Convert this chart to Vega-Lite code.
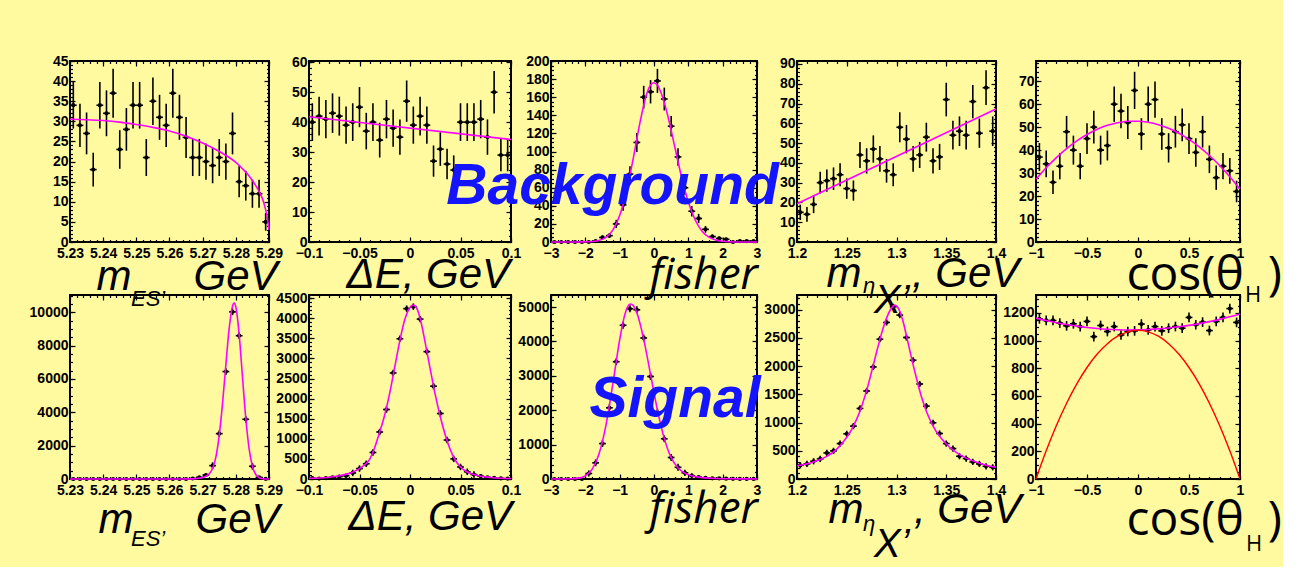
{
"$schema": "https://vega.github.io/schema/vega-lite/v6.json",
"padding": {"left": 28, "top": 53, "right": 0, "bottom": 0},
"background": "#fffaa0",
"columns": 5,
"spacing": {"row": 53, "column": 40},
"bounds": "flush",
"config": {
 "view": {"stroke": "black", "strokeWidth": 2, "fill": null},
 "axis": {"domain": false, "grid": false, "tickColor": "black", "tickWidth": 1.2, "tickSize": -5, "labelFont": "Liberation Sans Narrow, Liberation Sans", "labelFontWeight": "bold", "labelFontSize": 14, "labelColor": "black", "labelPadding": 7, "labelOverlap": false, "labelFlush": false, "titleFont": "Liberation Sans", "titleFontStyle": "italic", "titleFontWeight": "normal", "titleFontSize": 42, "titleColor": "black", "titleAlign": "left", "titleBaseline": "alphabetic", "titleAngle": 0},
 "axisBottom": {"labelPadding": 9}
},
"datasets": {
 "d1": [{"x":5.231,"y":34,"e":5.8},{"x":5.233,"y":29,"e":5.4},{"x":5.235,"y":27,"e":5.2},{"x":5.237,"y":18,"e":4.2},{"x":5.239,"y":34,"e":5.8},{"x":5.241,"y":32,"e":5.7},{"x":5.243,"y":37,"e":6.1},{"x":5.245,"y":23,"e":4.8},{"x":5.247,"y":28,"e":5.3},{"x":5.249,"y":34,"e":5.8},{"x":5.251,"y":34,"e":5.8},{"x":5.253,"y":21,"e":4.6},{"x":5.255,"y":35,"e":5.9},{"x":5.257,"y":31,"e":5.6},{"x":5.259,"y":29,"e":5.4},{"x":5.261,"y":37,"e":6.1},{"x":5.263,"y":31,"e":5.6},{"x":5.265,"y":26,"e":5.1},{"x":5.267,"y":21,"e":4.6},{"x":5.269,"y":21,"e":4.6},{"x":5.271,"y":20,"e":4.5},{"x":5.273,"y":19,"e":4.4},{"x":5.275,"y":21,"e":4.6},{"x":5.277,"y":20,"e":4.5},{"x":5.279,"y":27,"e":5.2},{"x":5.281,"y":15,"e":3.9},{"x":5.283,"y":14,"e":3.7},{"x":5.285,"y":12,"e":3.5},{"x":5.287,"y":12,"e":3.5},{"x":5.289,"y":5,"e":2.2}],
 "d2": [{"x":-0.0967,"y":40,"e":6.3},{"x":-0.09,"y":42,"e":6.5},{"x":-0.0833,"y":41,"e":6.4},{"x":-0.0767,"y":43,"e":6.6},{"x":-0.07,"y":42,"e":6.5},{"x":-0.0633,"y":39,"e":6.2},{"x":-0.0567,"y":40,"e":6.3},{"x":-0.05,"y":45,"e":6.7},{"x":-0.0433,"y":37,"e":6.1},{"x":-0.0367,"y":40,"e":6.3},{"x":-0.03,"y":34,"e":5.8},{"x":-0.0233,"y":41,"e":6.4},{"x":-0.0167,"y":38,"e":6.2},{"x":-0.01,"y":35,"e":5.9},{"x":-0.0033,"y":47,"e":6.9},{"x":0.0033,"y":39,"e":6.2},{"x":0.01,"y":42,"e":6.5},{"x":0.0167,"y":39,"e":6.2},{"x":0.0233,"y":27,"e":5.2},{"x":0.03,"y":31,"e":5.6},{"x":0.0367,"y":26,"e":5.1},{"x":0.0433,"y":24,"e":4.9},{"x":0.05,"y":40,"e":6.3},{"x":0.0567,"y":40,"e":6.3},{"x":0.0633,"y":40,"e":6.3},{"x":0.07,"y":41,"e":6.4},{"x":0.0767,"y":35,"e":5.9},{"x":0.0833,"y":50,"e":7.1},{"x":0.09,"y":29,"e":5.4},{"x":0.0967,"y":29,"e":5.4}],
 "d3": [{"x":-2.9,"y":0,"e":0},{"x":-2.7,"y":0,"e":0},{"x":-2.5,"y":0,"e":0},{"x":-2.3,"y":0,"e":0},{"x":-2.1,"y":0,"e":0},{"x":-1.9,"y":0,"e":0},{"x":-1.7,"y":1,"e":1},{"x":-1.5,"y":5,"e":2.2},{"x":-1.3,"y":7,"e":2.6},{"x":-1.1,"y":20,"e":4.5},{"x":-0.9,"y":41,"e":6.4},{"x":-0.7,"y":75,"e":8.7},{"x":-0.5,"y":110,"e":10.5},{"x":-0.3,"y":160,"e":12.6},{"x":-0.1,"y":166,"e":12.9},{"x":0.1,"y":178,"e":13.3},{"x":0.3,"y":158,"e":12.6},{"x":0.5,"y":128,"e":11.3},{"x":0.7,"y":94,"e":9.7},{"x":0.9,"y":60,"e":7.7},{"x":1.1,"y":34,"e":5.8},{"x":1.3,"y":26,"e":5.1},{"x":1.5,"y":14,"e":3.7},{"x":1.7,"y":6,"e":2.4},{"x":1.9,"y":4,"e":2},{"x":2.1,"y":3,"e":1.7},{"x":2.3,"y":0,"e":0},{"x":2.5,"y":1,"e":1},{"x":2.7,"y":1,"e":1},{"x":2.9,"y":1,"e":1}],
 "d4": [{"x":1.2033,"y":15,"e":3.9},{"x":1.21,"y":14,"e":3.7},{"x":1.2167,"y":19,"e":4.4},{"x":1.2233,"y":30,"e":5.5},{"x":1.23,"y":31,"e":5.6},{"x":1.2367,"y":32,"e":5.7},{"x":1.2433,"y":34,"e":5.8},{"x":1.25,"y":27,"e":5.2},{"x":1.2567,"y":26,"e":5.1},{"x":1.2633,"y":44,"e":6.6},{"x":1.27,"y":41,"e":6.4},{"x":1.2767,"y":47,"e":6.9},{"x":1.2833,"y":42,"e":6.5},{"x":1.29,"y":36,"e":6},{"x":1.2967,"y":34,"e":5.8},{"x":1.3033,"y":58,"e":7.6},{"x":1.31,"y":52,"e":7.2},{"x":1.3167,"y":42,"e":6.5},{"x":1.3233,"y":44,"e":6.6},{"x":1.33,"y":53,"e":7.3},{"x":1.3367,"y":41,"e":6.4},{"x":1.3433,"y":43,"e":6.6},{"x":1.35,"y":72,"e":8.5},{"x":1.3567,"y":54,"e":7.3},{"x":1.3633,"y":56,"e":7.5},{"x":1.37,"y":54,"e":7.3},{"x":1.3767,"y":71,"e":8.4},{"x":1.3833,"y":55,"e":7.4},{"x":1.39,"y":78,"e":8.8},{"x":1.3967,"y":56,"e":7.5}],
 "d5": [{"x":-0.9667,"y":37,"e":6.1},{"x":-0.9,"y":34,"e":5.8},{"x":-0.8333,"y":26,"e":5.1},{"x":-0.7667,"y":33,"e":5.7},{"x":-0.7,"y":48,"e":6.9},{"x":-0.6333,"y":40,"e":6.3},{"x":-0.5667,"y":33,"e":5.7},{"x":-0.5,"y":45,"e":6.7},{"x":-0.4333,"y":50,"e":7.1},{"x":-0.3667,"y":40,"e":6.3},{"x":-0.3,"y":42,"e":6.5},{"x":-0.2333,"y":60,"e":7.7},{"x":-0.1667,"y":57,"e":7.5},{"x":-0.1,"y":52,"e":7.2},{"x":-0.0333,"y":66,"e":8.1},{"x":0.0333,"y":47,"e":6.9},{"x":0.1,"y":60,"e":7.7},{"x":0.1667,"y":62,"e":7.9},{"x":0.2333,"y":47,"e":6.9},{"x":0.3,"y":41,"e":6.4},{"x":0.3667,"y":48,"e":6.9},{"x":0.4333,"y":51,"e":7.1},{"x":0.5,"y":45,"e":6.7},{"x":0.5667,"y":39,"e":6.2},{"x":0.6333,"y":48,"e":6.9},{"x":0.7,"y":36,"e":6},{"x":0.7667,"y":28,"e":5.3},{"x":0.8333,"y":33,"e":5.7},{"x":0.9,"y":31,"e":5.6},{"x":0.9667,"y":22,"e":4.7}],
 "d6": [{"x":5.231,"y":0,"e":0},{"x":5.233,"y":0,"e":0},{"x":5.235,"y":0,"e":0},{"x":5.237,"y":0,"e":0},{"x":5.239,"y":0,"e":0},{"x":5.241,"y":0,"e":0},{"x":5.243,"y":0,"e":0},{"x":5.245,"y":0,"e":0},{"x":5.247,"y":0,"e":0},{"x":5.249,"y":0,"e":0},{"x":5.251,"y":0,"e":0},{"x":5.253,"y":0,"e":0},{"x":5.255,"y":0,"e":0},{"x":5.257,"y":0,"e":0},{"x":5.259,"y":0,"e":0},{"x":5.261,"y":0,"e":0},{"x":5.263,"y":0,"e":0},{"x":5.265,"y":0,"e":0},{"x":5.267,"y":30,"e":30},{"x":5.269,"y":100,"e":60},{"x":5.271,"y":240,"e":100},{"x":5.273,"y":800,"e":200},{"x":5.275,"y":2720,"e":200},{"x":5.277,"y":6440,"e":200},{"x":5.279,"y":10020,"e":200},{"x":5.281,"y":8590,"e":200},{"x":5.283,"y":3580,"e":200},{"x":5.285,"y":760,"e":200},{"x":5.287,"y":100,"e":60},{"x":5.289,"y":10,"e":10}],
 "d7": [{"x":-0.0967,"y":20,"e":15},{"x":-0.09,"y":10,"e":8},{"x":-0.0833,"y":20,"e":15},{"x":-0.0767,"y":40,"e":30},{"x":-0.07,"y":60,"e":45},{"x":-0.0633,"y":80,"e":60},{"x":-0.0567,"y":150,"e":80},{"x":-0.05,"y":260,"e":80},{"x":-0.0433,"y":380,"e":80},{"x":-0.0367,"y":660,"e":80},{"x":-0.03,"y":1170,"e":80},{"x":-0.0233,"y":1730,"e":80},{"x":-0.0167,"y":2640,"e":80},{"x":-0.01,"y":3490,"e":80},{"x":-0.0033,"y":4240,"e":80},{"x":0.0033,"y":4290,"e":80},{"x":0.01,"y":3980,"e":80},{"x":0.0167,"y":3170,"e":80},{"x":0.0233,"y":2310,"e":80},{"x":0.03,"y":1630,"e":80},{"x":0.0367,"y":970,"e":80},{"x":0.0433,"y":500,"e":80},{"x":0.05,"y":300,"e":80},{"x":0.0567,"y":180,"e":80},{"x":0.0633,"y":110,"e":80},{"x":0.07,"y":70,"e":55},{"x":0.0767,"y":40,"e":30},{"x":0.0833,"y":25,"e":20},{"x":0.09,"y":15,"e":12},{"x":0.0967,"y":10,"e":8}],
 "d8": [{"x":-2.9,"y":0,"e":0},{"x":-2.7,"y":0,"e":0},{"x":-2.5,"y":0,"e":0},{"x":-2.3,"y":0,"e":0},{"x":-2.1,"y":0,"e":0},{"x":-1.9,"y":160,"e":90},{"x":-1.7,"y":470,"e":100},{"x":-1.5,"y":1030,"e":100},{"x":-1.3,"y":2070,"e":100},{"x":-1.1,"y":3410,"e":100},{"x":-0.9,"y":4470,"e":100},{"x":-0.7,"y":4950,"e":100},{"x":-0.5,"y":4920,"e":100},{"x":-0.3,"y":4100,"e":100},{"x":-0.1,"y":2980,"e":100},{"x":0.1,"y":1940,"e":100},{"x":0.3,"y":1170,"e":100},{"x":0.5,"y":625,"e":100},{"x":0.7,"y":340,"e":100},{"x":0.9,"y":180,"e":90},{"x":1.1,"y":95,"e":70},{"x":1.3,"y":55,"e":45},{"x":1.5,"y":35,"e":30},{"x":1.7,"y":20,"e":18},{"x":1.9,"y":15,"e":12},{"x":2.1,"y":10,"e":8},{"x":2.3,"y":5,"e":4},{"x":2.5,"y":3,"e":3},{"x":2.7,"y":2,"e":2},{"x":2.9,"y":1,"e":1}],
 "d9": [{"x":1.2033,"y":243,"e":55},{"x":1.21,"y":267,"e":55},{"x":1.2167,"y":314,"e":55},{"x":1.2233,"y":356,"e":55},{"x":1.23,"y":462,"e":55},{"x":1.2367,"y":498,"e":55},{"x":1.2433,"y":628,"e":55},{"x":1.25,"y":800,"e":55},{"x":1.2567,"y":937,"e":55},{"x":1.2633,"y":1250,"e":55},{"x":1.27,"y":1559,"e":55},{"x":1.2767,"y":1986,"e":55},{"x":1.2833,"y":2478,"e":55},{"x":1.29,"y":2774,"e":55},{"x":1.2967,"y":3050,"e":55},{"x":1.3033,"y":2904,"e":55},{"x":1.31,"y":2507,"e":55},{"x":1.3167,"y":2104,"e":55},{"x":1.3233,"y":1683,"e":55},{"x":1.33,"y":1292,"e":55},{"x":1.3367,"y":996,"e":55},{"x":1.3433,"y":806,"e":55},{"x":1.35,"y":628,"e":55},{"x":1.3567,"y":539,"e":55},{"x":1.3633,"y":403,"e":55},{"x":1.37,"y":362,"e":55},{"x":1.3767,"y":302,"e":55},{"x":1.3833,"y":267,"e":55},{"x":1.39,"y":225,"e":55},{"x":1.3967,"y":207,"e":55}],
 "d10": [{"x":-0.9667,"y":1158,"e":35},{"x":-0.9,"y":1146,"e":35},{"x":-0.8333,"y":1146,"e":35},{"x":-0.7667,"y":1127,"e":35},{"x":-0.7,"y":1107,"e":35},{"x":-0.6333,"y":1122,"e":35},{"x":-0.5667,"y":1102,"e":35},{"x":-0.5,"y":1139,"e":35},{"x":-0.4333,"y":1029,"e":35},{"x":-0.3667,"y":1110,"e":35},{"x":-0.3,"y":1066,"e":35},{"x":-0.2333,"y":1102,"e":35},{"x":-0.1667,"y":1041,"e":35},{"x":-0.1,"y":1066,"e":35},{"x":-0.0333,"y":1071,"e":35},{"x":0.0333,"y":1120,"e":35},{"x":0.1,"y":1078,"e":35},{"x":0.1667,"y":1102,"e":35},{"x":0.2333,"y":1071,"e":35},{"x":0.3,"y":1090,"e":35},{"x":0.3667,"y":1102,"e":35},{"x":0.4333,"y":1090,"e":35},{"x":0.5,"y":1168,"e":35},{"x":0.5667,"y":1115,"e":35},{"x":0.6333,"y":1134,"e":35},{"x":0.7,"y":1073,"e":35},{"x":0.7667,"y":1139,"e":35},{"x":0.8333,"y":1168,"e":35},{"x":0.9,"y":1232,"e":35},{"x":0.9667,"y":1132,"e":35}],
 "f1": [{"x":5.23,"y":30.5},{"x":5.235,"y":30.4},{"x":5.24,"y":30.2},{"x":5.245,"y":29.8},{"x":5.25,"y":29.2},{"x":5.255,"y":28.5},{"x":5.26,"y":27.6},{"x":5.265,"y":26.3},{"x":5.27,"y":24.6},{"x":5.275,"y":22.5},{"x":5.278,"y":21.0},{"x":5.28,"y":19.8},{"x":5.282,"y":18.2},{"x":5.284,"y":16.4},{"x":5.286,"y":14.0},{"x":5.287,"y":12.6},{"x":5.288,"y":10.8},{"x":5.289,"y":8.0},{"x":5.2895,"y":6.0},{"x":5.29,"y":3.0}],
 "f2": [{"x":-0.1,"y":41.8},{"x":0.1,"y":34.2}],
 "f3": [{"x":-3,"y":0},{"x":-2.4,"y":0},{"x":-2.0,"y":0.12},{"x":-1.8,"y":0.48},{"x":-1.6,"y":1.7},{"x":-1.4,"y":5.0},{"x":-1.2,"y":13.1},{"x":-1.0,"y":29.2},{"x":-0.8,"y":56.2},{"x":-0.6,"y":93.3},{"x":-0.4,"y":133.6},{"x":-0.2,"y":165.1},{"x":-0.1,"y":173.5},{"x":-0.014,"y":176},{"x":0.1,"y":173.2},{"x":0.2,"y":165.5},{"x":0.4,"y":139.8},{"x":0.6,"y":106.1},{"x":0.8,"y":72.2},{"x":1.0,"y":44.2},{"x":1.2,"y":24.3},{"x":1.4,"y":12.0},{"x":1.6,"y":5.3},{"x":1.8,"y":2.1},{"x":2.0,"y":0.76},{"x":2.2,"y":0.25},{"x":2.6,"y":0},{"x":3,"y":0}],
 "f4": [{"x":1.2,"y":19.3},{"x":1.4,"y":67.2}],
 "f5": [{"x":-1,"y":27.3},{"x":-0.9,"y":32.3},{"x":-0.8,"y":36.75},{"x":-0.7,"y":40.65},{"x":-0.6,"y":44.0},{"x":-0.5,"y":46.8},{"x":-0.4,"y":49.07},{"x":-0.3,"y":50.78},{"x":-0.2,"y":51.93},{"x":-0.1,"y":52.54},{"x":0,"y":52.6},{"x":0.1,"y":52.11},{"x":0.2,"y":51.07},{"x":0.3,"y":49.49},{"x":0.4,"y":47.35},{"x":0.5,"y":44.67},{"x":0.6,"y":41.43},{"x":0.7,"y":37.65},{"x":0.8,"y":33.31},{"x":0.9,"y":28.43},{"x":1,"y":23.0}],
 "f6": [{"x":5.23,"y":0},{"x":5.264,"y":0},{"x":5.266,"y":5},{"x":5.268,"y":25},{"x":5.27,"y":90},{"x":5.271,"y":170},{"x":5.272,"y":320},{"x":5.273,"y":640},{"x":5.274,"y":1330},{"x":5.275,"y":2630},{"x":5.276,"y":4550},{"x":5.277,"y":6860},{"x":5.278,"y":9040},{"x":5.279,"y":10360},{"x":5.2795,"y":10540},{"x":5.28,"y":10310},{"x":5.281,"y":8670},{"x":5.282,"y":6130},{"x":5.283,"y":3640},{"x":5.284,"y":1820},{"x":5.285,"y":760},{"x":5.286,"y":270},{"x":5.287,"y":80},{"x":5.288,"y":20},{"x":5.289,"y":4},{"x":5.29,"y":0}],
 "f7": [{"x":-0.1,"y":15},{"x":-0.09,"y":25},{"x":-0.08,"y":45},{"x":-0.07,"y":80},{"x":-0.06,"y":140},{"x":-0.05,"y":260},{"x":-0.045,"y":350},{"x":-0.04,"y":490},{"x":-0.035,"y":780},{"x":-0.03,"y":1170},{"x":-0.025,"y":1600},{"x":-0.02,"y":2150},{"x":-0.015,"y":2800},{"x":-0.01,"y":3450},{"x":-0.005,"y":3980},{"x":0,"y":4270},{"x":0.003,"y":4330},{"x":0.006,"y":4280},{"x":0.01,"y":4000},{"x":0.015,"y":3400},{"x":0.02,"y":2740},{"x":0.025,"y":2100},{"x":0.03,"y":1550},{"x":0.035,"y":1090},{"x":0.04,"y":720},{"x":0.045,"y":460},{"x":0.05,"y":300},{"x":0.055,"y":200},{"x":0.06,"y":135},{"x":0.07,"y":70},{"x":0.08,"y":38},{"x":0.09,"y":20},{"x":0.1,"y":12}],
 "f8": [{"x":-3,"y":0},{"x":-2.6,"y":1},{"x":-2.4,"y":6},{"x":-2.2,"y":25},{"x":-2.0,"y":93},{"x":-1.8,"y":287},{"x":-1.6,"y":735},{"x":-1.4,"y":1561},{"x":-1.2,"y":2757},{"x":-1.0,"y":4047},{"x":-0.85,"y":4779},{"x":-0.77,"y":5005},{"x":-0.685,"y":5090},{"x":-0.6,"y":5035},{"x":-0.5,"y":4833},{"x":-0.3,"y":4068},{"x":-0.1,"y":3033},{"x":0.1,"y":2004},{"x":0.3,"y":1174},{"x":0.5,"y":620},{"x":0.7,"y":320},{"x":0.9,"y":170},{"x":1.1,"y":95},{"x":1.3,"y":55},{"x":1.5,"y":32},{"x":1.8,"y":15},{"x":2.2,"y":7},{"x":2.6,"y":3},{"x":3,"y":1}],
 "f9": [{"x":1.2,"y":235},{"x":1.21,"y":270},{"x":1.22,"y":325},{"x":1.23,"y":400},{"x":1.24,"y":530},{"x":1.25,"y":740},{"x":1.255,"y":880},{"x":1.26,"y":1060},{"x":1.265,"y":1290},{"x":1.27,"y":1570},{"x":1.275,"y":1900},{"x":1.28,"y":2250},{"x":1.285,"y":2580},{"x":1.29,"y":2850},{"x":1.295,"y":3030},{"x":1.298,"y":3080},{"x":1.302,"y":3020},{"x":1.306,"y":2830},{"x":1.31,"y":2540},{"x":1.315,"y":2150},{"x":1.32,"y":1790},{"x":1.325,"y":1460},{"x":1.33,"y":1200},{"x":1.335,"y":1000},{"x":1.34,"y":840},{"x":1.345,"y":720},{"x":1.35,"y":620},{"x":1.36,"y":470},{"x":1.37,"y":370},{"x":1.38,"y":300},{"x":1.39,"y":245},{"x":1.4,"y":210}],
 "f10": [{"x":-1,"y":1163},{"x":-0.9,"y":1145.5},{"x":-0.8,"y":1130},{"x":-0.7,"y":1116.5},{"x":-0.6,"y":1105},{"x":-0.5,"y":1095.5},{"x":-0.4,"y":1088},{"x":-0.3,"y":1082.5},{"x":-0.2,"y":1079},{"x":-0.1,"y":1077.5},{"x":0,"y":1078},{"x":0.1,"y":1080.5},{"x":0.2,"y":1085},{"x":0.3,"y":1091.5},{"x":0.4,"y":1100},{"x":0.5,"y":1110.5},{"x":0.6,"y":1123},{"x":0.7,"y":1137.5},{"x":0.8,"y":1154},{"x":0.9,"y":1172.5},{"x":1,"y":1193}],
 "r10": [{"x":-1,"y":0},{"x":-0.95,"y":105},{"x":-0.9,"y":204},{"x":-0.8,"y":387},{"x":-0.7,"y":548},{"x":-0.6,"y":688},{"x":-0.5,"y":806},{"x":-0.4,"y":903},{"x":-0.3,"y":978},{"x":-0.2,"y":1032},{"x":-0.1,"y":1064},{"x":0,"y":1075},{"x":0.1,"y":1064},{"x":0.2,"y":1032},{"x":0.3,"y":978},{"x":0.4,"y":903},{"x":0.5,"y":806},{"x":0.6,"y":688},{"x":0.7,"y":548},{"x":0.8,"y":387},{"x":0.9,"y":204},{"x":0.95,"y":105},{"x":1,"y":0}]
},
"concat": [
{"width":199,"height":181,"resolve":{"axis":{"x":"independent","y":"independent"}},
 "layer":[
 {"data":{"name":"d1"},"mark":{"type":"errorbar","ticks":false,"thickness":1.6,"color":"black"},
  "encoding":{"x":{"field":"x","type":"quantitative","scale":{"domain":[5.23,5.29],"nice":false,"zero":false},"axis":{"orient":"bottom","values":[5.23,5.24,5.25,5.26,5.27,5.28,5.29],"format":"~r","title":"m\u2003\u2009 GeV","titleX":26,"titleY":47}},
   "y":{"field":"y","type":"quantitative","scale":{"domain":[0,45],"nice":false,"zero":false},"axis":{"orient":"left","values":[0,5,10,15,20,25,30,35,40,45],"format":"~r","title":null}},
   "yError":{"field":"e"}}},
 {"data":{"name":"d1"},"mark":{"type":"tick","orient":"horizontal","size":6.8,"thickness":1.6,"color":"black","opacity":1},
  "encoding":{"x":{"field":"x","type":"quantitative","scale":{"domain":[5.23,5.29],"nice":false,"zero":false},"axis":{"orient":"top","values":[5.23,5.24,5.25,5.26,5.27,5.28,5.29],"labels":false,"title":null}},
   "y":{"field":"y","type":"quantitative","scale":{"domain":[0,45],"nice":false,"zero":false},"axis":{"orient":"right","values":[0,5,10,15,20,25,30,35,40,45],"labels":false,"title":null}}}},
 {"data":{"name":"d1"},"mark":{"type":"point","shape":"circle","filled":true,"size":18,"color":"black","opacity":1},
  "encoding":{"x":{"field":"x","type":"quantitative","scale":{"domain":[5.23,5.29],"nice":false,"zero":false},"axis":{"orient":"bottom","tickCount":30,"labels":false,"title":null,"tickSize":-2.5}},
   "y":{"field":"y","type":"quantitative","scale":{"domain":[0,45],"nice":false,"zero":false},"axis":{"orient":"left","tickCount":45,"labels":false,"title":null,"tickSize":-2.5}}}},
 {"data":{"name":"f1"},"mark":{"type":"line","color":"#ff00ff","strokeWidth":1.6,"interpolate":"monotone"},
  "encoding":{"x":{"field":"x","type":"quantitative","scale":{"domain":[5.23,5.29],"nice":false,"zero":false},"axis":{"orient":"top","tickCount":30,"labels":false,"title":null,"tickSize":-2.5}},
   "y":{"field":"y","type":"quantitative","scale":{"domain":[0,45],"nice":false,"zero":false},"axis":{"orient":"right","tickCount":45,"labels":false,"title":null,"tickSize":-2.5}}}},
 {"data":{"values":[{}]},"mark":{"type":"text","text":"ES’","font":"Liberation Sans","fontStyle":"italic","fontSize":22,"align":"left","baseline":"alphabetic","color":"black"},
  "encoding":{"x":{"datum":5.2484,"type":"quantitative","scale":{"domain":[5.23,5.29],"nice":false,"zero":false},"axis":null},
   "y":{"datum":-15.9,"type":"quantitative","scale":{"domain":[0,45],"nice":false,"zero":false},"axis":null}}}
 ]},
{"width":202,"height":181,"resolve":{"axis":{"x":"independent","y":"independent"}},
 "layer":[
 {"data":{"name":"d2"},"mark":{"type":"errorbar","ticks":false,"thickness":1.6,"color":"black"},
  "encoding":{"x":{"field":"x","type":"quantitative","scale":{"domain":[-0.1,0.1],"nice":false,"zero":false},"axis":{"orient":"bottom","values":[-0.1,-0.05,0,0.05,0.1],"format":"~r","title":"ΔE, GeV","titleX":37,"titleY":45}},
   "y":{"field":"y","type":"quantitative","scale":{"domain":[0,60.4],"nice":false,"zero":false},"axis":{"orient":"left","values":[0,10,20,30,40,50,60],"format":"~r","title":null}},
   "yError":{"field":"e"}}},
 {"data":{"name":"d2"},"mark":{"type":"tick","orient":"horizontal","size":6.8,"thickness":1.6,"color":"black","opacity":1},
  "encoding":{"x":{"field":"x","type":"quantitative","scale":{"domain":[-0.1,0.1],"nice":false,"zero":false},"axis":{"orient":"top","values":[-0.1,-0.05,0,0.05,0.1],"labels":false,"title":null}},
   "y":{"field":"y","type":"quantitative","scale":{"domain":[0,60.4],"nice":false,"zero":false},"axis":{"orient":"right","values":[0,10,20,30,40,50,60],"labels":false,"title":null}}}},
 {"data":{"name":"d2"},"mark":{"type":"point","shape":"circle","filled":true,"size":18,"color":"black","opacity":1},
  "encoding":{"x":{"field":"x","type":"quantitative","scale":{"domain":[-0.1,0.1],"nice":false,"zero":false},"axis":{"orient":"bottom","tickCount":20,"labels":false,"title":null,"tickSize":-2.5}},
   "y":{"field":"y","type":"quantitative","scale":{"domain":[0,60.4],"nice":false,"zero":false},"axis":{"orient":"left","tickCount":30,"labels":false,"title":null,"tickSize":-2.5}}}},
 {"data":{"name":"f2"},"mark":{"type":"line","color":"#ff00ff","strokeWidth":1.6},
  "encoding":{"x":{"field":"x","type":"quantitative","scale":{"domain":[-0.1,0.1],"nice":false,"zero":false},"axis":{"orient":"top","tickCount":20,"labels":false,"title":null,"tickSize":-2.5}},
   "y":{"field":"y","type":"quantitative","scale":{"domain":[0,60.4],"nice":false,"zero":false},"axis":{"orient":"right","tickCount":30,"labels":false,"title":null,"tickSize":-2.5}}}}
 ]},
{"width":206,"height":181,"resolve":{"axis":{"x":"independent","y":"independent"}},
 "layer":[
 {"data":{"name":"d3"},"mark":{"type":"errorbar","ticks":false,"thickness":1.6,"color":"black"},
  "encoding":{"x":{"field":"x","type":"quantitative","scale":{"domain":[-3,3],"nice":false,"zero":false},"axis":{"orient":"bottom","values":[-3,-2,-1,0,1,2,3],"format":"~r","title":"fisher","titleX":98,"titleY":46,"titleFont":"Open Sans","titleFontStyle":"italic","titleFontSize":44}},
   "y":{"field":"y","type":"quantitative","scale":{"domain":[0,200],"nice":false,"zero":false},"axis":{"orient":"left","values":[0,20,40,60,80,100,120,140,160,180,200],"format":"~r","title":null}},
   "yError":{"field":"e"}}},
 {"data":{"name":"d3"},"mark":{"type":"tick","orient":"horizontal","size":6.8,"thickness":1.6,"color":"black","opacity":1},
  "encoding":{"x":{"field":"x","type":"quantitative","scale":{"domain":[-3,3],"nice":false,"zero":false},"axis":{"orient":"top","values":[-3,-2,-1,0,1,2,3],"labels":false,"title":null}},
   "y":{"field":"y","type":"quantitative","scale":{"domain":[0,200],"nice":false,"zero":false},"axis":{"orient":"right","values":[0,20,40,60,80,100,120,140,160,180,200],"labels":false,"title":null}}}},
 {"data":{"name":"d3"},"mark":{"type":"point","shape":"circle","filled":true,"size":18,"color":"black","opacity":1},
  "encoding":{"x":{"field":"x","type":"quantitative","scale":{"domain":[-3,3],"nice":false,"zero":false},"axis":{"orient":"bottom","tickCount":30,"labels":false,"title":null,"tickSize":-2.5}},
   "y":{"field":"y","type":"quantitative","scale":{"domain":[0,200],"nice":false,"zero":false},"axis":{"orient":"left","tickCount":40,"labels":false,"title":null,"tickSize":-2.5}}}},
 {"data":{"name":"f3"},"mark":{"type":"line","color":"#ff00ff","strokeWidth":1.6,"interpolate":"monotone"},
  "encoding":{"x":{"field":"x","type":"quantitative","scale":{"domain":[-3,3],"nice":false,"zero":false},"axis":{"orient":"top","tickCount":30,"labels":false,"title":null,"tickSize":-2.5}},
   "y":{"field":"y","type":"quantitative","scale":{"domain":[0,200],"nice":false,"zero":false},"axis":{"orient":"right","tickCount":40,"labels":false,"title":null,"tickSize":-2.5}}}},
 {"data":{"values":[{}]},"mark":{"type":"text","text":"Background","font":"Liberation Sans","fontStyle":"italic","fontWeight":"bold","fontSize":57,"align":"left","baseline":"alphabetic","color":"#1414ff"},
  "encoding":{"x":{"datum":-6.05,"type":"quantitative","scale":{"domain":[-3,3],"nice":false,"zero":false},"axis":null},
   "y":{"datum":42,"type":"quantitative","scale":{"domain":[0,200],"nice":false,"zero":false},"axis":null}}}
 ]},
{"width":199,"height":181,"resolve":{"axis":{"x":"independent","y":"independent"}},
 "layer":[
 {"data":{"name":"d4"},"mark":{"type":"errorbar","ticks":false,"thickness":1.6,"color":"black"},
  "encoding":{"x":{"field":"x","type":"quantitative","scale":{"domain":[1.2,1.4],"nice":false,"zero":false},"axis":{"orient":"bottom","values":[1.2,1.25,1.3,1.35,1.4],"format":"~r","title":"m\u2003\u2009, GeV","titleX":29,"titleY":44}},
   "y":{"field":"y","type":"quantitative","scale":{"domain":[0,91.5],"nice":false,"zero":false},"axis":{"orient":"left","values":[0,10,20,30,40,50,60,70,80,90],"format":"~r","title":null}},
   "yError":{"field":"e"}}},
 {"data":{"name":"d4"},"mark":{"type":"tick","orient":"horizontal","size":6.8,"thickness":1.6,"color":"black","opacity":1},
  "encoding":{"x":{"field":"x","type":"quantitative","scale":{"domain":[1.2,1.4],"nice":false,"zero":false},"axis":{"orient":"top","values":[1.2,1.25,1.3,1.35,1.4],"labels":false,"title":null}},
   "y":{"field":"y","type":"quantitative","scale":{"domain":[0,91.5],"nice":false,"zero":false},"axis":{"orient":"right","values":[0,10,20,30,40,50,60,70,80,90],"labels":false,"title":null}}}},
 {"data":{"name":"d4"},"mark":{"type":"point","shape":"circle","filled":true,"size":18,"color":"black","opacity":1},
  "encoding":{"x":{"field":"x","type":"quantitative","scale":{"domain":[1.2,1.4],"nice":false,"zero":false},"axis":{"orient":"bottom","tickCount":20,"labels":false,"title":null,"tickSize":-2.5}},
   "y":{"field":"y","type":"quantitative","scale":{"domain":[0,91.5],"nice":false,"zero":false},"axis":{"orient":"left","tickCount":45,"labels":false,"title":null,"tickSize":-2.5}}}},
 {"data":{"name":"f4"},"mark":{"type":"line","color":"#ff00ff","strokeWidth":1.6},
  "encoding":{"x":{"field":"x","type":"quantitative","scale":{"domain":[1.2,1.4],"nice":false,"zero":false},"axis":{"orient":"top","tickCount":20,"labels":false,"title":null,"tickSize":-2.5}},
   "y":{"field":"y","type":"quantitative","scale":{"domain":[0,91.5],"nice":false,"zero":false},"axis":{"orient":"right","tickCount":45,"labels":false,"title":null,"tickSize":-2.5}}}},
 {"data":{"values":[{}]},"mark":{"type":"text","text":"η","font":"Liberation Sans","fontStyle":"italic","fontSize":22,"align":"left","baseline":"alphabetic","color":"black"},
  "encoding":{"x":{"datum":1.2663,"type":"quantitative","scale":{"domain":[1.2,1.4],"nice":false,"zero":false},"axis":null},
   "y":{"datum":-25.8,"type":"quantitative","scale":{"domain":[0,91.5],"nice":false,"zero":false},"axis":null}}},
 {"data":{"values":[{}]},"mark":{"type":"text","text":"X’","font":"Liberation Sans","fontStyle":"italic","fontSize":40,"align":"left","baseline":"alphabetic","color":"black"},
  "encoding":{"x":{"datum":1.2774,"type":"quantitative","scale":{"domain":[1.2,1.4],"nice":false,"zero":false},"axis":null},
   "y":{"datum":-35.9,"type":"quantitative","scale":{"domain":[0,91.5],"nice":false,"zero":false},"axis":null}}}
 ]},
{"width":204,"height":181,"resolve":{"axis":{"x":"independent","y":"independent"}},
 "layer":[
 {"data":{"name":"d5"},"mark":{"type":"errorbar","ticks":false,"thickness":1.6,"color":"black"},
  "encoding":{"x":{"field":"x","type":"quantitative","scale":{"domain":[-1,1],"nice":false,"zero":false},"axis":{"orient":"bottom","values":[-1,-0.5,0,0.5,1],"format":"~r","title":"cos(θ\u2002)","titleX":90,"titleY":47,"titleFont":"Open Sans","titleFontStyle":"normal","titleFontSize":48}},
   "y":{"field":"y","type":"quantitative","scale":{"domain":[0,78.8],"nice":false,"zero":false},"axis":{"orient":"left","values":[0,10,20,30,40,50,60,70],"format":"~r","title":null}},
   "yError":{"field":"e"}}},
 {"data":{"name":"d5"},"mark":{"type":"tick","orient":"horizontal","size":6.8,"thickness":1.6,"color":"black","opacity":1},
  "encoding":{"x":{"field":"x","type":"quantitative","scale":{"domain":[-1,1],"nice":false,"zero":false},"axis":{"orient":"top","values":[-1,-0.5,0,0.5,1],"labels":false,"title":null}},
   "y":{"field":"y","type":"quantitative","scale":{"domain":[0,78.8],"nice":false,"zero":false},"axis":{"orient":"right","values":[0,10,20,30,40,50,60,70],"labels":false,"title":null}}}},
 {"data":{"name":"d5"},"mark":{"type":"point","shape":"circle","filled":true,"size":18,"color":"black","opacity":1},
  "encoding":{"x":{"field":"x","type":"quantitative","scale":{"domain":[-1,1],"nice":false,"zero":false},"axis":{"orient":"bottom","tickCount":20,"labels":false,"title":null,"tickSize":-2.5}},
   "y":{"field":"y","type":"quantitative","scale":{"domain":[0,78.8],"nice":false,"zero":false},"axis":{"orient":"left","tickCount":39,"labels":false,"title":null,"tickSize":-2.5}}}},
 {"data":{"name":"f5"},"mark":{"type":"line","color":"#ff00ff","strokeWidth":1.6,"interpolate":"monotone"},
  "encoding":{"x":{"field":"x","type":"quantitative","scale":{"domain":[-1,1],"nice":false,"zero":false},"axis":{"orient":"top","tickCount":20,"labels":false,"title":null,"tickSize":-2.5}},
   "y":{"field":"y","type":"quantitative","scale":{"domain":[0,78.8],"nice":false,"zero":false},"axis":{"orient":"right","tickCount":39,"labels":false,"title":null,"tickSize":-2.5}}}},
 {"data":{"values":[{}]},"mark":{"type":"text","text":"H","font":"Open Sans","fontSize":22,"align":"left","baseline":"alphabetic","color":"black"},
  "encoding":{"x":{"datum":1.049,"type":"quantitative","scale":{"domain":[-1,1],"nice":false,"zero":false},"axis":null},
   "y":{"datum":-26.1,"type":"quantitative","scale":{"domain":[0,78.8],"nice":false,"zero":false},"axis":null}}}
 ]},
{"width":199,"height":184,"resolve":{"axis":{"x":"independent","y":"independent"}},
 "layer":[
 {"data":{"name":"d6"},"mark":{"type":"errorbar","ticks":false,"thickness":1.6,"color":"black"},
  "encoding":{"x":{"field":"x","type":"quantitative","scale":{"domain":[5.23,5.29],"nice":false,"zero":false},"axis":{"orient":"bottom","values":[5.23,5.24,5.25,5.26,5.27,5.28,5.29],"format":"~r","title":"m\u2003\u2009 GeV","titleX":28,"titleY":53}},
   "y":{"field":"y","type":"quantitative","scale":{"domain":[0,11030],"nice":false,"zero":false},"axis":{"orient":"left","values":[0,2000,4000,6000,8000,10000],"format":"~r","title":null}},
   "yError":{"field":"e"}}},
 {"data":{"name":"d6"},"mark":{"type":"tick","orient":"horizontal","size":6.8,"thickness":1.6,"color":"black","opacity":1},
  "encoding":{"x":{"field":"x","type":"quantitative","scale":{"domain":[5.23,5.29],"nice":false,"zero":false},"axis":{"orient":"top","values":[5.23,5.24,5.25,5.26,5.27,5.28,5.29],"labels":false,"title":null}},
   "y":{"field":"y","type":"quantitative","scale":{"domain":[0,11030],"nice":false,"zero":false},"axis":{"orient":"right","values":[0,2000,4000,6000,8000,10000],"labels":false,"title":null}}}},
 {"data":{"name":"d6"},"mark":{"type":"point","shape":"circle","filled":true,"size":18,"color":"black","opacity":1},
  "encoding":{"x":{"field":"x","type":"quantitative","scale":{"domain":[5.23,5.29],"nice":false,"zero":false},"axis":{"orient":"bottom","tickCount":30,"labels":false,"title":null,"tickSize":-2.5}},
   "y":{"field":"y","type":"quantitative","scale":{"domain":[0,11030],"nice":false,"zero":false},"axis":{"orient":"left","tickCount":22,"labels":false,"title":null,"tickSize":-2.5}}}},
 {"data":{"name":"f6"},"mark":{"type":"line","color":"#ff00ff","strokeWidth":1.6,"interpolate":"monotone"},
  "encoding":{"x":{"field":"x","type":"quantitative","scale":{"domain":[5.23,5.29],"nice":false,"zero":false},"axis":{"orient":"top","tickCount":30,"labels":false,"title":null,"tickSize":-2.5}},
   "y":{"field":"y","type":"quantitative","scale":{"domain":[0,11030],"nice":false,"zero":false},"axis":{"orient":"right","tickCount":22,"labels":false,"title":null,"tickSize":-2.5}}}},
 {"data":{"values":[{}]},"mark":{"type":"text","text":"ES’","font":"Liberation Sans","fontStyle":"italic","fontSize":22,"align":"left","baseline":"alphabetic","color":"black"},
  "encoding":{"x":{"datum":5.2484,"type":"quantitative","scale":{"domain":[5.23,5.29],"nice":false,"zero":false},"axis":null},
   "y":{"datum":-4016,"type":"quantitative","scale":{"domain":[0,11030],"nice":false,"zero":false},"axis":null}}}
 ]},
{"width":202,"height":184,"resolve":{"axis":{"x":"independent","y":"independent"}},
 "layer":[
 {"data":{"name":"d7"},"mark":{"type":"errorbar","ticks":false,"thickness":1.6,"color":"black"},
  "encoding":{"x":{"field":"x","type":"quantitative","scale":{"domain":[-0.1,0.1],"nice":false,"zero":false},"axis":{"orient":"bottom","values":[-0.1,-0.05,0,0.05,0.1],"format":"~r","title":"ΔE, GeV","titleX":39,"titleY":50}},
   "y":{"field":"y","type":"quantitative","scale":{"domain":[0,4580],"nice":false,"zero":false},"axis":{"orient":"left","values":[0,500,1000,1500,2000,2500,3000,3500,4000,4500],"format":"~r","title":null}},
   "yError":{"field":"e"}}},
 {"data":{"name":"d7"},"mark":{"type":"tick","orient":"horizontal","size":6.8,"thickness":1.6,"color":"black","opacity":1},
  "encoding":{"x":{"field":"x","type":"quantitative","scale":{"domain":[-0.1,0.1],"nice":false,"zero":false},"axis":{"orient":"top","values":[-0.1,-0.05,0,0.05,0.1],"labels":false,"title":null}},
   "y":{"field":"y","type":"quantitative","scale":{"domain":[0,4580],"nice":false,"zero":false},"axis":{"orient":"right","values":[0,500,1000,1500,2000,2500,3000,3500,4000,4500],"labels":false,"title":null}}}},
 {"data":{"name":"d7"},"mark":{"type":"point","shape":"circle","filled":true,"size":18,"color":"black","opacity":1},
  "encoding":{"x":{"field":"x","type":"quantitative","scale":{"domain":[-0.1,0.1],"nice":false,"zero":false},"axis":{"orient":"bottom","tickCount":20,"labels":false,"title":null,"tickSize":-2.5}},
   "y":{"field":"y","type":"quantitative","scale":{"domain":[0,4580],"nice":false,"zero":false},"axis":{"orient":"left","tickCount":46,"labels":false,"title":null,"tickSize":-2.5}}}},
 {"data":{"name":"f7"},"mark":{"type":"line","color":"#ff00ff","strokeWidth":1.6,"interpolate":"monotone"},
  "encoding":{"x":{"field":"x","type":"quantitative","scale":{"domain":[-0.1,0.1],"nice":false,"zero":false},"axis":{"orient":"top","tickCount":20,"labels":false,"title":null,"tickSize":-2.5}},
   "y":{"field":"y","type":"quantitative","scale":{"domain":[0,4580],"nice":false,"zero":false},"axis":{"orient":"right","tickCount":46,"labels":false,"title":null,"tickSize":-2.5}}}}
 ]},
{"width":206,"height":184,"resolve":{"axis":{"x":"independent","y":"independent"}},
 "layer":[
 {"data":{"name":"d8"},"mark":{"type":"errorbar","ticks":false,"thickness":1.6,"color":"black"},
  "encoding":{"x":{"field":"x","type":"quantitative","scale":{"domain":[-3,3],"nice":false,"zero":false},"axis":{"orient":"bottom","values":[-3,-2,-1,0,1,2,3],"format":"~r","title":"fisher","titleX":98,"titleY":43,"titleFont":"Open Sans","titleFontStyle":"italic","titleFontSize":44}},
   "y":{"field":"y","type":"quantitative","scale":{"domain":[0,5350],"nice":false,"zero":false},"axis":{"orient":"left","values":[0,1000,2000,3000,4000,5000],"format":"~r","title":null}},
   "yError":{"field":"e"}}},
 {"data":{"name":"d8"},"mark":{"type":"tick","orient":"horizontal","size":6.8,"thickness":1.6,"color":"black","opacity":1},
  "encoding":{"x":{"field":"x","type":"quantitative","scale":{"domain":[-3,3],"nice":false,"zero":false},"axis":{"orient":"top","values":[-3,-2,-1,0,1,2,3],"labels":false,"title":null}},
   "y":{"field":"y","type":"quantitative","scale":{"domain":[0,5350],"nice":false,"zero":false},"axis":{"orient":"right","values":[0,1000,2000,3000,4000,5000],"labels":false,"title":null}}}},
 {"data":{"name":"d8"},"mark":{"type":"point","shape":"circle","filled":true,"size":18,"color":"black","opacity":1},
  "encoding":{"x":{"field":"x","type":"quantitative","scale":{"domain":[-3,3],"nice":false,"zero":false},"axis":{"orient":"bottom","tickCount":30,"labels":false,"title":null,"tickSize":-2.5}},
   "y":{"field":"y","type":"quantitative","scale":{"domain":[0,5350],"nice":false,"zero":false},"axis":{"orient":"left","tickCount":27,"labels":false,"title":null,"tickSize":-2.5}}}},
 {"data":{"name":"f8"},"mark":{"type":"line","color":"#ff00ff","strokeWidth":1.6,"interpolate":"monotone"},
  "encoding":{"x":{"field":"x","type":"quantitative","scale":{"domain":[-3,3],"nice":false,"zero":false},"axis":{"orient":"top","tickCount":30,"labels":false,"title":null,"tickSize":-2.5}},
   "y":{"field":"y","type":"quantitative","scale":{"domain":[0,5350],"nice":false,"zero":false},"axis":{"orient":"right","tickCount":27,"labels":false,"title":null,"tickSize":-2.5}}}},
 {"data":{"values":[{}]},"mark":{"type":"text","text":"Signal","font":"Liberation Sans","fontStyle":"italic","fontWeight":"bold","fontSize":57,"align":"left","baseline":"alphabetic","color":"#1414ff"},
  "encoding":{"x":{"datum":-1.88,"type":"quantitative","scale":{"domain":[-3,3],"nice":false,"zero":false},"axis":null},
   "y":{"datum":1803,"type":"quantitative","scale":{"domain":[0,5350],"nice":false,"zero":false},"axis":null}}}
 ]},
{"width":199,"height":184,"resolve":{"axis":{"x":"independent","y":"independent"}},
 "layer":[
 {"data":{"name":"d9"},"mark":{"type":"errorbar","ticks":false,"thickness":1.6,"color":"black"},
  "encoding":{"x":{"field":"x","type":"quantitative","scale":{"domain":[1.2,1.4],"nice":false,"zero":false},"axis":{"orient":"bottom","values":[1.2,1.25,1.3,1.35,1.4],"format":"~r","title":"m\u2003\u2009, GeV","titleX":31,"titleY":43}},
   "y":{"field":"y","type":"quantitative","scale":{"domain":[0,3260],"nice":false,"zero":false},"axis":{"orient":"left","values":[0,500,1000,1500,2000,2500,3000],"format":"~r","title":null}},
   "yError":{"field":"e"}}},
 {"data":{"name":"d9"},"mark":{"type":"tick","orient":"horizontal","size":6.8,"thickness":1.6,"color":"black","opacity":1},
  "encoding":{"x":{"field":"x","type":"quantitative","scale":{"domain":[1.2,1.4],"nice":false,"zero":false},"axis":{"orient":"top","values":[1.2,1.25,1.3,1.35,1.4],"labels":false,"title":null}},
   "y":{"field":"y","type":"quantitative","scale":{"domain":[0,3260],"nice":false,"zero":false},"axis":{"orient":"right","values":[0,500,1000,1500,2000,2500,3000],"labels":false,"title":null}}}},
 {"data":{"name":"d9"},"mark":{"type":"point","shape":"circle","filled":true,"size":18,"color":"black","opacity":1},
  "encoding":{"x":{"field":"x","type":"quantitative","scale":{"domain":[1.2,1.4],"nice":false,"zero":false},"axis":{"orient":"bottom","tickCount":20,"labels":false,"title":null,"tickSize":-2.5}},
   "y":{"field":"y","type":"quantitative","scale":{"domain":[0,3260],"nice":false,"zero":false},"axis":{"orient":"left","tickCount":33,"labels":false,"title":null,"tickSize":-2.5}}}},
 {"data":{"name":"f9"},"mark":{"type":"line","color":"#ff00ff","strokeWidth":1.6,"interpolate":"monotone"},
  "encoding":{"x":{"field":"x","type":"quantitative","scale":{"domain":[1.2,1.4],"nice":false,"zero":false},"axis":{"orient":"top","tickCount":20,"labels":false,"title":null,"tickSize":-2.5}},
   "y":{"field":"y","type":"quantitative","scale":{"domain":[0,3260],"nice":false,"zero":false},"axis":{"orient":"right","tickCount":33,"labels":false,"title":null,"tickSize":-2.5}}}},
 {"data":{"values":[{}]},"mark":{"type":"text","text":"η","font":"Liberation Sans","fontStyle":"italic","fontSize":22,"align":"left","baseline":"alphabetic","color":"black"},
  "encoding":{"x":{"datum":1.2663,"type":"quantitative","scale":{"domain":[1.2,1.4],"nice":false,"zero":false},"axis":null},
   "y":{"datum":-921,"type":"quantitative","scale":{"domain":[0,3260],"nice":false,"zero":false},"axis":null}}},
 {"data":{"values":[{}]},"mark":{"type":"text","text":"X’","font":"Liberation Sans","fontStyle":"italic","fontSize":40,"align":"left","baseline":"alphabetic","color":"black"},
  "encoding":{"x":{"datum":1.2774,"type":"quantitative","scale":{"domain":[1.2,1.4],"nice":false,"zero":false},"axis":null},
   "y":{"datum":-1382,"type":"quantitative","scale":{"domain":[0,3260],"nice":false,"zero":false},"axis":null}}}
 ]},
{"width":204,"height":184,"resolve":{"axis":{"x":"independent","y":"independent"}},
 "layer":[
 {"data":{"name":"d10"},"mark":{"type":"errorbar","ticks":false,"thickness":1.6,"color":"black"},
  "encoding":{"x":{"field":"x","type":"quantitative","scale":{"domain":[-1,1],"nice":false,"zero":false},"axis":{"orient":"bottom","values":[-1,-0.5,0,0.5,1],"format":"~r","title":"cos(θ\u2002)","titleX":90,"titleY":55,"titleFont":"Open Sans","titleFontStyle":"normal","titleFontSize":48}},
   "y":{"field":"y","type":"quantitative","scale":{"domain":[0,1330],"nice":false,"zero":false},"axis":{"orient":"left","values":[0,200,400,600,800,1000,1200],"format":"~r","title":null}},
   "yError":{"field":"e"}}},
 {"data":{"name":"d10"},"mark":{"type":"tick","orient":"horizontal","size":6.8,"thickness":1.6,"color":"black","opacity":1},
  "encoding":{"x":{"field":"x","type":"quantitative","scale":{"domain":[-1,1],"nice":false,"zero":false},"axis":{"orient":"top","values":[-1,-0.5,0,0.5,1],"labels":false,"title":null}},
   "y":{"field":"y","type":"quantitative","scale":{"domain":[0,1330],"nice":false,"zero":false},"axis":{"orient":"right","values":[0,200,400,600,800,1000,1200],"labels":false,"title":null}}}},
 {"data":{"name":"d10"},"mark":{"type":"point","shape":"circle","filled":true,"size":18,"color":"black","opacity":1},
  "encoding":{"x":{"field":"x","type":"quantitative","scale":{"domain":[-1,1],"nice":false,"zero":false},"axis":{"orient":"bottom","tickCount":20,"labels":false,"title":null,"tickSize":-2.5}},
   "y":{"field":"y","type":"quantitative","scale":{"domain":[0,1330],"nice":false,"zero":false},"axis":{"orient":"left","tickCount":27,"labels":false,"title":null,"tickSize":-2.5}}}},
 {"data":{"name":"f10"},"mark":{"type":"line","color":"#ff00ff","strokeWidth":1.6,"interpolate":"monotone"},
  "encoding":{"x":{"field":"x","type":"quantitative","scale":{"domain":[-1,1],"nice":false,"zero":false},"axis":{"orient":"top","tickCount":20,"labels":false,"title":null,"tickSize":-2.5}},
   "y":{"field":"y","type":"quantitative","scale":{"domain":[0,1330],"nice":false,"zero":false},"axis":{"orient":"right","tickCount":27,"labels":false,"title":null,"tickSize":-2.5}}}},
 {"data":{"name":"r10"},"mark":{"type":"line","color":"#ff0000","strokeWidth":1.4,"interpolate":"monotone"},
  "encoding":{"x":{"field":"x","type":"quantitative","scale":{"domain":[-1,1],"nice":false,"zero":false},"axis":null},
   "y":{"field":"y","type":"quantitative","scale":{"domain":[0,1330],"nice":false,"zero":false},"axis":null}}},
 {"data":{"values":[{}]},"mark":{"type":"text","text":"H","font":"Open Sans","fontSize":22,"align":"left","baseline":"alphabetic","color":"black"},
  "encoding":{"x":{"datum":1.0588,"type":"quantitative","scale":{"domain":[-1,1],"nice":false,"zero":false},"axis":null},
   "y":{"datum":-520,"type":"quantitative","scale":{"domain":[0,1330],"nice":false,"zero":false},"axis":null}}}
 ]}
]
}
